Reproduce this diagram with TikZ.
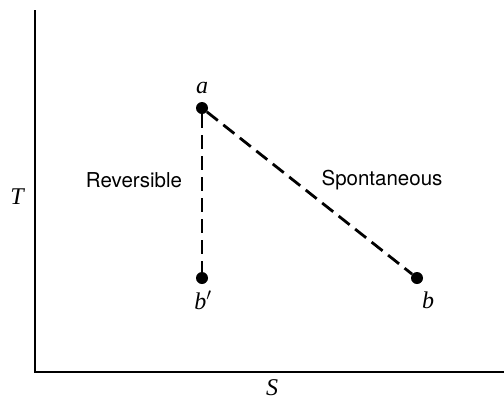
\documentclass[tikz,border=0pt]{standalone}
\usepackage{fontspec}
\setsansfont{TeX Gyre Heros}
\newfontfamily\lblfont{Liberation Serif}
\begin{document}
\begin{tikzpicture}[x=1pt,y=-1pt,
  axis/.style={line width=2pt},
  conn/.style={line width=2.8pt, dash pattern=on 14pt off 7pt},
  pt/.style={circle, fill=black, inner sep=0pt, minimum size=12pt},
  lbl/.style={font=\fontsize{24}{26}\lblfont\itshape, inner sep=0pt},
  word/.style={font=\fontsize{20.5}{23}\selectfont\sffamily, inner sep=0pt}]
\useasboundingbox (0,0) rectangle (504,400);
\coordinate (top) at (35,10);
\coordinate (origin) at (35,372);
\coordinate (right) at (504,372);
\draw[axis] (top) -- (origin) -- (right);
\node[pt] (a) at (202,108) {};
\node[pt] (bp) at (202,278) {};
\node[pt] (b) at (417,278) {};
\draw[conn] (a) -- (bp);
\draw[conn] (a) -- (b);
\node[lbl] (la) at (202,88) {a};
\node[lbl] (lbp) at (203,300) {b$'$};
\node[lbl] (lb) at (428,300) {b};
\node[word] (rev) at (134,180) {Reversible};
\node[word] (spo) at (382,180) {Spontaneous};
\node[lbl] (T) at (17,197) {T};
\node[lbl] (S) at (272,388) {S};
\end{tikzpicture}
\end{document}
